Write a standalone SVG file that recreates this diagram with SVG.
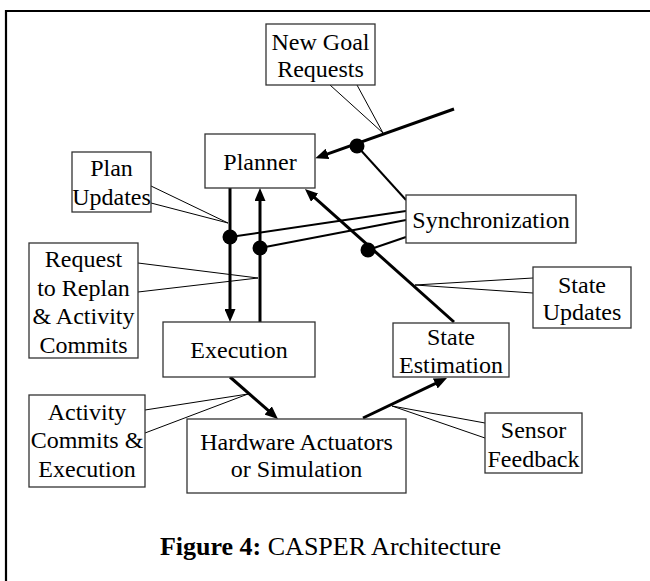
<svg xmlns="http://www.w3.org/2000/svg" width="650" height="581" viewBox="0 0 650 581">
<style>
.box{fill:#fff;stroke:#333;stroke-width:1.3}
.t{font-family:"Liberation Serif","Times New Roman",serif;font-size:24px;fill:#000;text-anchor:middle}
.arrow{stroke:#000;stroke-width:3;fill:none;marker-end:url(#ah)}
.sync{stroke:#000;stroke-width:2;fill:none}
.call{stroke:#000;stroke-width:1;fill:none}
.frame{stroke:#000;stroke-width:2.2;fill:none}
</style>
<defs>
<marker id="ah" markerUnits="userSpaceOnUse" markerWidth="13" markerHeight="11" refX="8" refY="5.5" orient="auto">
<path d="M0,0 L13,5.5 L0,11 z" fill="#000"/>
</marker>
</defs>
<rect width="650" height="581" fill="#fff"/>
<path class="frame" d="M6,581 V11 H650"/>

<g id="connectors">
<line class="arrow" x1="454" y1="109" x2="320" y2="156.6"/>
<line class="arrow" x1="230" y1="188" x2="230" y2="317"/>
<line class="arrow" x1="260" y1="322" x2="260" y2="193"/>
<line class="arrow" x1="454" y1="322" x2="308.7" y2="192.3"/>
<line class="arrow" x1="230" y1="377" x2="274.2" y2="415.7"/>
<line class="arrow" x1="363" y1="418" x2="442.5" y2="380.1"/>
<line class="sync" x1="357" y1="146" x2="406" y2="200"/>
<line class="sync" x1="230" y1="237" x2="406" y2="211"/>
<line class="sync" x1="260" y1="248" x2="406" y2="220"/>
<line class="sync" x1="368" y1="250" x2="406" y2="237"/>
<circle cx="357" cy="146" r="7.5"/>
<circle cx="230" cy="237" r="7.5"/>
<circle cx="260" cy="248" r="7.5"/>
<circle cx="368" cy="250" r="7.5"/>
<polyline class="call" points="330,85 383,133 357,85"/>
<polyline class="call" points="151,186 228,223 151,203"/>
<polyline class="call" points="138,263 258,278 138,292"/>
<polyline class="call" points="533,278 415,285 533,293"/>
<polyline class="call" points="145,410 248,394 145,433"/>
<polyline class="call" points="485,423 392,406 485,438"/>
</g>

<g id="new-goal-requests">
<rect class="box" x="266" y="24" width="109" height="61"/>
<text class="t" x="320.5" y="50">New Goal</text>
<text class="t" x="320.5" y="77">Requests</text>
</g>
<g id="planner">
<rect class="box" x="205" y="134" width="110" height="54"/>
<text class="t" x="260" y="170">Planner</text>
</g>
<g id="plan-updates">
<rect class="box" x="72" y="152" width="79" height="60"/>
<text class="t" x="111.5" y="176">Plan</text>
<text class="t" x="111.5" y="205">Updates</text>
</g>
<g id="synchronization">
<rect class="box" x="406" y="195" width="170" height="48"/>
<text class="t" x="491" y="228">Synchronization</text>
</g>
<g id="request-to-replan">
<rect class="box" x="29" y="243" width="109" height="115"/>
<text class="t" x="83.5" y="267">Request</text>
<text class="t" x="83.5" y="296">to Replan</text>
<text class="t" x="83.5" y="324">&amp; Activity</text>
<text class="t" x="83.5" y="353">Commits</text>
</g>
<g id="state-updates">
<rect class="box" x="533" y="267" width="98" height="61"/>
<text class="t" x="582" y="293">State</text>
<text class="t" x="582" y="320">Updates</text>
</g>
<g id="execution">
<rect class="box" x="163" y="322" width="152" height="55"/>
<text class="t" x="239" y="358">Execution</text>
</g>
<g id="state-estimation">
<rect class="box" x="393" y="323" width="116" height="54"/>
<text class="t" x="451" y="345">State</text>
<text class="t" x="451" y="373">Estimation</text>
</g>
<g id="activity-commits">
<rect class="box" x="29" y="395" width="116" height="92"/>
<text class="t" x="87" y="420">Activity</text>
<text class="t" x="87" y="448">Commits &amp;</text>
<text class="t" x="87" y="477">Execution</text>
</g>
<g id="hardware">
<rect class="box" x="187" y="419" width="219" height="74"/>
<text class="t" x="296.5" y="450">Hardware Actuators</text>
<text class="t" x="296.5" y="477">or Simulation</text>
</g>
<g id="sensor-feedback">
<rect class="box" x="485" y="413" width="97" height="60"/>
<text class="t" x="533.5" y="438">Sensor</text>
<text class="t" x="533.5" y="467">Feedback</text>
</g>
<g id="caption">
<text class="t" x="330.5" y="555" style="font-size:26px"><tspan font-weight="bold">Figure 4:</tspan> CASPER Architecture</text>
</g>
</svg>
